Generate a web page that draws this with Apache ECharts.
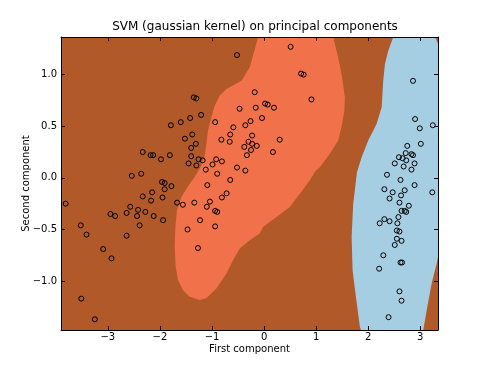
<!DOCTYPE html>
<html>
<head>
<meta charset="utf-8">
<script src="https://cdn.jsdelivr.net/npm/echarts@6/dist/echarts.min.js"></script>
<style>html,body{margin:0;padding:0;background:#fff}#chart{width:487px;height:367px}</style>
</head>
<body>
<div id="chart"></div>
<script>
// ---- data ----
var xTicks = [-3, -2, -1, 0, 1, 2, 3];
var yTicks = [-1, -0.5, 0, 0.5, 1];
var xRange = [-3.9, 3.34];
var yRange = [-1.474, 1.365];

// decision region boundaries (data coordinates)
var regionSalmon = [
  [-0.115, 1.365], [-0.275, 1.071], [-0.435, 0.942], [-0.723, 0.862], [-0.852, 0.797],
  [-0.948, 0.700], [-1.012, 0.587], [-1.077, 0.459], [-1.108, 0.330], [-1.140, 0.217],
  [-1.204, 0.121], [-1.333, 0.008], [-1.429, -0.056], [-1.588, -0.186], [-1.673, -0.314],
  [-1.704, -0.475], [-1.717, -0.669], [-1.698, -0.862], [-1.654, -0.990], [-1.558, -1.087],
  [-1.429, -1.152], [-1.237, -1.184], [-1.108, -1.167], [-0.915, -1.071], [-0.723, -0.926],
  [-0.596, -0.797], [-0.467, -0.684], [-0.275, -0.604], [-0.083, -0.539], [-0.019, -0.475],
  [0.238, -0.379], [0.494, -0.282], [0.590, -0.217], [0.687, -0.153], [0.879, -0.024],
  [0.994, 0.072], [1.071, 0.104], [1.263, 0.234], [1.423, 0.362], [1.494, 0.507],
  [1.542, 0.652], [1.552, 0.778], [1.494, 0.990], [1.423, 1.167], [1.327, 1.365]
];
var regionBlue = [
  [2.481, 1.365], [2.385, 1.232], [2.321, 1.103], [2.288, 0.942], [2.258, 0.684],
  [2.162, 0.524], [2.000, 0.362], [1.873, 0.201], [1.783, 0.053], [1.712, -0.249],
  [1.681, -0.572], [1.700, -0.894], [1.763, -1.152], [1.840, -1.442], [1.860, -1.474],
  [3.058, -1.474], [3.123, -1.280], [3.219, -1.022], [3.315, -0.829], [3.34, -0.765],
  [3.34, 1.30], [3.283, 1.365]
];

// projected samples (versicolor + virginica)
var pointsOther = [
  [0.51, 1.27], [-0.52, 1.19], [0.71, 1.01], [0.76, 1.00], [-0.18, 0.83], [0.91, 0.76],
  [-1.35, 0.78], [-1.30, 0.77], [-0.47, 0.67], [-0.16, 0.68], [0.02, 0.72], [0.07, 0.71],
  [0.19, 0.68], [-1.21, 0.61], [-1.42, 0.58], [-1.60, 0.54], [-0.94, 0.54], [-0.26, 0.55],
  [-0.04, 0.58], [-1.79, 0.51], [-0.59, 0.49], [-0.36, 0.51], [-1.52, 0.38], [-1.38, 0.42],
  [-0.82, 0.37], [-0.65, 0.42], [-0.66, 0.35], [-0.23, 0.41], [0.30, 0.37], [-1.31, 0.33],
  [-1.40, 0.29], [-0.38, 0.30], [-0.30, 0.35], [-0.23, 0.33], [-0.14, 0.31], [-0.25, 0.27],
  [-2.33, 0.25], [-2.18, 0.22], [-2.13, 0.22], [-1.98, 0.18], [-1.81, 0.22], [-1.40, 0.21],
  [-1.26, 0.18], [-1.18, 0.17], [-0.92, 0.18], [-0.81, 0.16], [-0.33, 0.22], [0.17, 0.25],
  [-1.45, 0.14], [-1.30, 0.12], [-0.99, 0.13], [-1.12, 0.08], [-0.52, 0.10], [-0.36, 0.07],
  [-0.90, 0.04], [-2.36, 0.04], [-2.54, 0.02], [-1.96, -0.04], [-1.91, -0.05], [-1.78, -0.08],
  [-1.09, -0.07], [-0.65, -0.02], [-1.91, -0.11], [-2.15, -0.14], [-0.72, -0.15], [-2.33, -0.18],
  [-1.95, -0.19], [-0.81, -0.19], [-2.17, -0.22], [-1.67, -0.24], [-1.34, -0.24], [-1.04, -0.23],
  [-1.56, -0.26], [-3.81, -0.25], [-2.57, -0.28], [-1.10, -0.28], [-2.42, -0.31], [-0.94, -0.32],
  [-0.90, -0.33], [-2.28, -0.33], [-2.95, -0.35], [-2.86, -0.37], [-2.64, -0.34], [-2.44, -0.37],
  [-2.12, -0.37], [-1.23, -0.41], [-1.94, -0.41], [-2.39, -0.46], [-3.52, -0.46], [-0.94, -0.47],
  [-3.41, -0.55], [-1.47, -0.50], [-2.64, -0.56], [-3.09, -0.69], [-1.27, -0.68], [-2.93, -0.78],
  [-3.51, -1.17], [-3.25, -1.37]
];
// projected samples (setosa)
var pointsSetosa = [
  [2.86, 0.94], [2.90, 0.57], [2.99, 0.48], [3.24, 0.51], [3.01, 0.33], [2.75, 0.31],
  [2.59, 0.20], [2.66, 0.19], [2.72, 0.24], [2.83, 0.23], [2.86, 0.22], [2.51, 0.14],
  [2.73, 0.17], [2.89, 0.14], [2.68, 0.11], [2.83, 0.08], [2.36, 0.03], [2.62, -0.02],
  [2.89, -0.07], [2.31, -0.11], [2.47, -0.14], [2.70, -0.12], [3.23, -0.14], [2.41, -0.20],
  [2.63, -0.17], [2.60, -0.24], [2.78, -0.27], [2.64, -0.32], [2.73, -0.33], [2.70, -0.32],
  [2.58, -0.38], [2.31, -0.40], [2.41, -0.42], [2.22, -0.44], [2.56, -0.44], [2.55, -0.51],
  [2.60, -0.52], [2.55, -0.59], [2.64, -0.61], [2.51, -0.65], [2.29, -0.75], [2.62, -0.82],
  [2.65, -0.82], [2.21, -0.88], [2.60, -1.10], [2.64, -1.19], [2.39, -1.35]
];

var regions = [regionSalmon, regionBlue];
var regionColors = ['#f1714b', '#a6cee3'];

function minusFmt(d) {
  return function (v) {
    var s = Math.abs(v).toFixed(d);
    return (v < 0 ? '\u2212' : '') + s;
  };
}

var FONT = 'DejaVu Sans';
var black = '#000';

function axisCommon(extra) {
  var base = {
    type: 'value',
    z: 10,
    scale: false,
    splitLine: { show: false },
    axisLine: { show: true, onZero: false, lineStyle: { color: black, width: 1 } },
    axisTick: { show: true, inside: true, length: 4, lineStyle: { color: black, width: 1 } }
  };
  for (var k in extra) base[k] = extra[k];
  return base;
}

var chart = echarts.init(document.getElementById('chart'), null, { renderer: 'canvas' });
chart.setOption({
  animation: false,
  backgroundColor: '#ffffff',
  title: {
    text: 'SVM (gaussian kernel) on principal components',
    left: 250, top: 16, textAlign: 'center',
    textStyle: { fontFamily: FONT, fontSize: 12, fontWeight: 'normal', color: black }
  },
  grid: {
    left: 61, top: 37, width: 377, height: 293,
    show: true, backgroundColor: '#b15928', borderWidth: 0
  },
  xAxis: [
    axisCommon({
      position: 'bottom', min: xRange[0], max: xRange[1],
      axisTick: { show: true, inside: true, length: 4, customValues: xTicks, lineStyle: { color: black, width: 1 } },
      axisLabel: { customValues: xTicks, formatter: minusFmt(0), fontFamily: FONT, fontSize: 10, color: black, margin: 2 },
      name: 'First component', nameLocation: 'middle', nameGap: 14, nameMoveOverlap: false,
      nameTextStyle: { fontFamily: FONT, fontSize: 10, color: black }
    }),
    axisCommon({
      position: 'top', min: xRange[0], max: xRange[1],
      axisTick: { show: true, inside: true, length: 4, customValues: xTicks, lineStyle: { color: black, width: 1 } },
      axisLabel: { show: false }
    })
  ],
  yAxis: [
    axisCommon({
      position: 'left', min: yRange[0], max: yRange[1],
      axisTick: { show: true, inside: true, length: 4, customValues: yTicks, lineStyle: { color: black, width: 1 } },
      axisLabel: { customValues: yTicks, formatter: minusFmt(1), fontFamily: FONT, fontSize: 10, color: black, margin: 4 },
      name: 'Second component', nameLocation: 'middle', nameGap: 30, nameRotate: 90, nameMoveOverlap: false,
      nameTextStyle: { fontFamily: FONT, fontSize: 10, color: black }
    }),
    axisCommon({
      position: 'right', min: yRange[0], max: yRange[1],
      axisTick: { show: true, inside: true, length: 4, customValues: yTicks, lineStyle: { color: black, width: 1 } },
      axisLabel: { show: false }
    })
  ],
  series: [
    {
      type: 'custom',
      z: 1,
      clip: true,
      xAxisIndex: 0, yAxisIndex: 0,
      data: [[0, 0], [1, 0]],
      renderItem: function (params, api) {
        var poly = regions[params.dataIndex];
        var pts = poly.map(function (p) { return api.coord(p); });
        return {
          type: 'polygon',
          shape: { points: pts },
          style: { fill: regionColors[params.dataIndex], stroke: null }
        };
      },
      silent: true
    },
    {
      type: 'scatter', z: 3, xAxisIndex: 0, yAxisIndex: 0,
      data: pointsOther, symbol: 'circle', symbolSize: 5,
      itemStyle: { color: 'rgba(0,0,0,0)', borderColor: black, borderWidth: 1, opacity: 1 }
    },
    {
      type: 'scatter', z: 3, xAxisIndex: 0, yAxisIndex: 0,
      data: pointsSetosa, symbol: 'circle', symbolSize: 5,
      itemStyle: { color: 'rgba(0,0,0,0)', borderColor: black, borderWidth: 1, opacity: 1 }
    }
  ]
});
</script>
</body>
</html>
